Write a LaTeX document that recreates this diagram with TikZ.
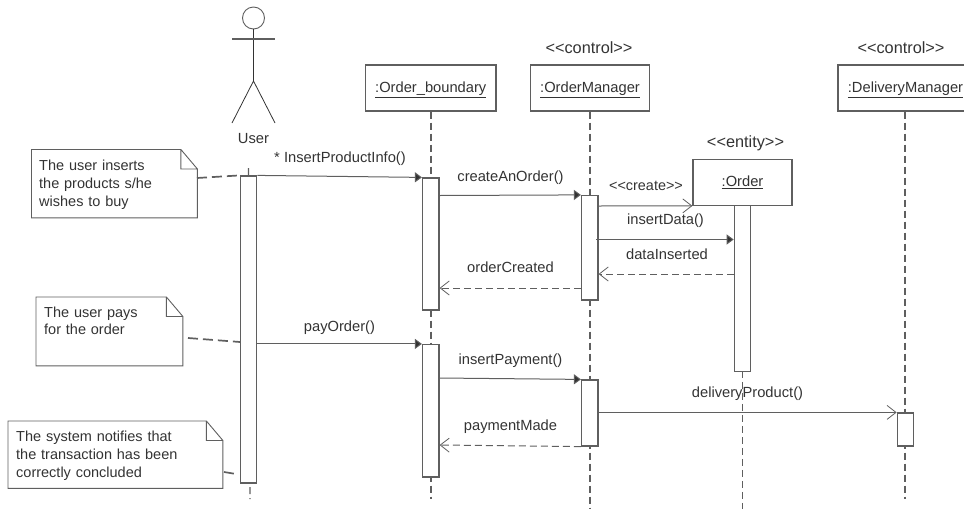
\documentclass[tikz,border=0pt]{standalone}
\usepackage{fontspec}
\setmainfont{Liberation Sans}
\usetikzlibrary{arrows.meta}
\definecolor{umlline}{HTML}{5F5F5F}
\definecolor{umltext}{HTML}{333333}
\newcommand{\stereo}[1]{<{}<#1>{}>}
\tikzset{
  lifebox/.style={draw=umlline,fill=white,line width=1.2pt,minimum height=46pt,inner sep=0pt,text height=12pt,text depth=3pt,font=\fontsize{14.7}{16}\selectfont},
  activation/.style={draw=umlline,fill=white,line width=1.2pt,minimum width=16.5pt,inner sep=0pt},
  lifeline/.style={draw=umlline,line width=1.2pt,dash pattern=on 7pt off 4pt},
  notebody/.style={anchor=north west,align=left,inner sep=0pt,font=\fontsize{14.5}{17.7}\selectfont},
  notelink/.style={draw=umlline,line width=1.7pt,dash pattern=on 10pt off 5pt},
  label/.style={text=umltext,inner sep=0pt,text height=12pt,text depth=3pt,font=\fontsize{14.7}{16}\selectfont},
  biglabel/.style={label,font=\fontsize{16.3}{18}\selectfont},
  callmsg/.style={draw=umlline,line width=1pt,-{Triangle[length=7pt,width=10pt,fill=umltext]}},
  openmsg/.style={draw=umlline,line width=1pt,-{Straight Barb[length=9pt,width=14pt,line width=.8pt]}},
  replymsg/.style={openmsg,dash pattern=on 7pt off 4pt}
}
\begin{document}
\begin{tikzpicture}[x=1pt,y=-1pt,text=umltext]
  \useasboundingbox (0,0) rectangle (964,509);

  % actor
  \node[circle,draw=umlline,line width=.9pt,minimum size=22pt,inner sep=0pt] (head) at (253.5,18) {};
  \coordinate (hip) at (253.5,81);
  \draw[draw=umltext,line width=.8pt] (head.south) -- (hip);
  \draw[draw=umlline,line width=1.1pt] (232,39) -- (275,39);
  \draw[draw=umltext,line width=.8pt] (232,123) -- (hip) -- (275,123);
  \node[label] (user) at (253.5,139) {User};

  % objects
  \node[lifebox,minimum width=130.5pt] (boundary) at (430.75,88) {\underline{:Order\_boundary}};
  \node[lifebox,minimum width=119pt] (manager) at (590,88) {\underline{:OrderManager}};
  \node[lifebox,minimum width=99pt] (order) at (742.5,182.25) {\underline{:Order}};
  \node[lifebox,minimum width=135pt] (delivery) at (905.5,88) {\underline{:DeliveryManager}};

  \node[biglabel] (stereomanager) at (589,49) {\stereo{control}};
  \node[biglabel] (stereoorder) at (745.5,143) {\stereo{entity}};
  \node[biglabel] (stereodelivery) at (901,49) {\stereo{control}};

  % lifelines
  \coordinate (userlifetop) at (248.5,168);
  \coordinate (userlifeend) at (250,499);
  \coordinate (boundaryend) at (431,499);
  \coordinate (managerend) at (590,509);
  \coordinate (orderend) at (742.5,509);
  \coordinate (deliveryend) at (905,499);
  \draw[lifeline] (userlifetop) -- (userlifeend);
  \draw[lifeline] (boundary.south -| boundaryend) -- (boundaryend);
  \draw[lifeline] (manager.south -| managerend) -- (managerend);
  \draw[lifeline] (order.south) -- (orderend);
  \draw[lifeline] (delivery.south -| deliveryend) -- (deliveryend);

  % activations
  \node[activation,minimum height=307pt] (actuser) at (248.5,329.5) {};
  \node[activation,minimum height=132pt] (actboundaryone) at (430.75,244) {};
  \node[activation,minimum height=132.5pt] (actboundarytwo) at (430.75,410.75) {};
  \node[activation,minimum height=104.5pt] (actmanagerone) at (589.75,247.75) {};
  \node[activation,minimum height=66pt] (actmanagertwo) at (589.75,413) {};
  \node[activation,minimum height=166pt] (actorder) at (742.5,288.5) {};
  \node[activation,minimum height=33pt] (actdelivery) at (905.5,429.5) {};

  % notes
  \node[notebody,minimum height=68pt,text width=165.5pt] (noteinsert) at (31.5,149.5) {\hspace*{7.5pt}\parbox[t]{150pt}{\strut The user inserts\\the products s/he\\wishes to buy}};
  \node[notebody,minimum height=68.5pt,text width=146.5pt] (notepay) at (36,297) {\hspace*{8pt}\parbox[t]{125pt}{\strut The user pays\\for the order\\\strut}};
  \node[notebody,minimum height=67pt,text width=214.5pt] (notesystem) at (8,421) {\hspace*{8pt}\parbox[t]{190pt}{\strut The system notifies that\\the transaction has been\\correctly concluded}};
  \foreach \n in {noteinsert,notepay,notesystem}
    \draw[draw=umlline,line width=.9pt] ([xshift=-16.5pt]\n.north east) -- ([yshift=-19.5pt]\n.north east) -- (\n.south east) -- (\n.south west) -- (\n.north west) -- cycle
      ([xshift=-16.5pt]\n.north east) |- ([yshift=-19.5pt]\n.north east);

  % note links
  \coordinate (linkinsert) at (197,178);
  \coordinate (linkpay) at (188,338);
  \coordinate (linkpayend) at (240,342);
  \coordinate (linksystem) at (224,472);
  \coordinate (linksystemend) at (236,474);
  \draw[notelink] (linkinsert) -- (actuser.north west);
  \draw[notelink] (linkpay) -- (linkpayend);
  \draw[notelink] (linksystem) -- (linksystemend);

  % messages
  \draw[callmsg] (actuser.north east) -- (actboundaryone.north west);
  \node[label] (msginsert) at (340,158) {* InsertProductInfo()};
  \draw[callmsg] (actboundaryone.east |- 0,195.5) -- (actmanagerone.north west);
  \node[label] (msgcreate) at (510.5,177) {createAnOrder()};
  \draw[openmsg] (actmanagerone.east |- 0,206) -- (order.south west);
  \node[label,font=\fontsize{14.4}{16}\selectfont] (msgstereo) at (646,185.5) {\stereo{create}};
  \coordinate (insertstart) at (596,239.5);
  \draw[callmsg] (insertstart) -- (actorder.west |- insertstart);
  \node[label] (msgdata) at (665.5,219.5) {insertData()};
  \draw[replymsg] (actorder.west |- 0,274) -- (actmanagerone.east |- 0,274);
  \node[label] (msginserted) at (667,254.5) {dataInserted};
  \draw[replymsg] (actmanagerone.west |- 0,288) -- (actboundaryone.east |- 0,288);
  \node[label] (msgcreated) at (510.5,268) {orderCreated};
  \draw[callmsg] (actuser.east |- actboundarytwo.north) -- (actboundarytwo.north west);
  \node[label] (msgpay) at (339.5,326.5) {payOrder()};
  \coordinate (paystart) at (439,378);
  \draw[callmsg] (paystart) -- (actmanagertwo.north west);
  \node[label] (msgpayment) at (510.5,359.5) {insertPayment()};
  \draw[replymsg] (actmanagertwo.south west) -- (actboundarytwo.east |- 0,445);
  \node[label] (msgmade) at (510.5,426) {paymentMade};
  \draw[openmsg] (actmanagertwo.east |- actdelivery.north) -- (actdelivery.north west);
  \node[label] (msgdelivery) at (747.5,393) {deliveryProduct()};
\end{tikzpicture}
\end{document}
